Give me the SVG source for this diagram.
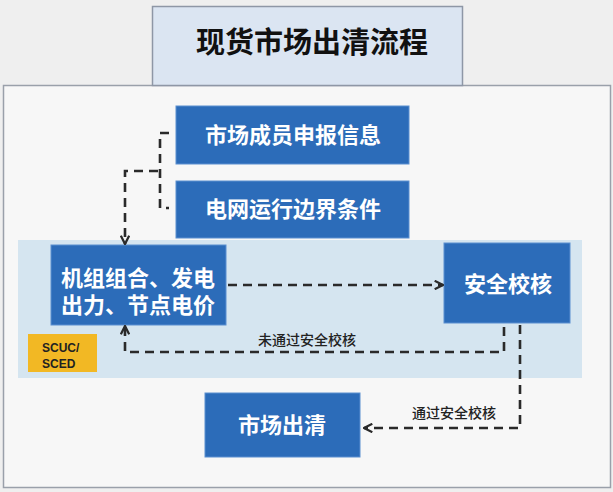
<svg xmlns="http://www.w3.org/2000/svg" width="613" height="492" viewBox="0 0 613 492">
<style>
.box{fill:#2c6cb9;stroke:#5b8fd0;stroke-width:1}
.bt{font-family:"Noto Sans CJK SC","Noto Sans",sans-serif;font-weight:bold;font-size:22px;fill:#ffffff;text-anchor:middle}
.lbl{font-family:"Noto Sans CJK SC","Noto Sans",sans-serif;font-size:14px;font-weight:500;fill:#222222;text-anchor:middle}
.dash{fill:none;stroke:#2a2a2a;stroke-width:2.6;stroke-dasharray:9 6}
</style>
<defs>
<marker id="ah" viewBox="0 0 10 10" refX="9" refY="5" markerWidth="4" markerHeight="4" orient="auto" markerUnits="strokeWidth">
<polyline points="1,1 9,5 1,9" fill="none" stroke="#2a2a2a" stroke-width="2.2"/>
</marker>
</defs>
<rect x="0" y="0" width="613" height="492" fill="#efefef"/>
<g id="frame">
<rect x="3.5" y="85.5" width="607" height="402" fill="#f7f7f7" stroke="#9aa0aa" stroke-width="1.5"/>
</g>
<g id="title">
<rect x="152.5" y="6.5" width="310" height="79" fill="#dbe5f2" stroke="#8e97a6" stroke-width="1.5"/>
<text x="312" y="53" font-family="Noto Sans CJK SC,sans-serif" font-weight="bold" font-size="29" fill="#111" text-anchor="middle">现货市场出清流程</text>
</g>
<g id="band">
<rect x="18" y="240" width="564" height="138" fill="#d5e5f0"/>
</g>
<g id="scuc">
<rect x="28" y="334" width="69" height="38" fill="#f2b824"/>
<text font-family="Liberation Sans,sans-serif" font-weight="bold" font-size="12" fill="#222"><tspan x="42" y="352">SCUC/</tspan><tspan x="42" y="368">SCED</tspan></text>
</g>
<g id="n1">
<rect class="box" x="176" y="106" width="233" height="58"/>
<text class="bt" x="293" y="143">市场成员申报信息</text>
</g>
<g id="n2">
<rect class="box" x="176" y="181" width="233" height="57"/>
<text class="bt" x="293" y="217">电网运行边界条件</text>
</g>
<g id="n3">
<rect class="box" x="51" y="245" width="175" height="80"/>
<text class="bt"><tspan x="138" y="286">机组组合、发电</tspan><tspan x="138" y="313">出力、节点电价</tspan></text>
</g>
<g id="n4">
<rect class="box" x="444" y="243" width="126" height="80"/>
<text class="bt" x="508" y="292">安全校核</text>
</g>
<g id="n5">
<rect class="box" x="205" y="393" width="155" height="64"/>
<text class="bt" x="282" y="433">市场出清</text>
</g>
<g id="connectors">
<polyline class="dash" points="169,133 160,133 160,208 169,208"/>
<polyline class="dash" points="158,171 125,171 125,244" marker-end="url(#ah)"/>
<polyline class="dash" points="228,285 443,285" marker-end="url(#ah)"/>
<polyline class="dash" points="504,327 504,352 125,352 125,326" marker-end="url(#ah)"/>
<polyline class="dash" points="520,325 520,428 364,428" marker-end="url(#ah)"/>
<text class="lbl" x="307" y="345">未通过安全校核</text>
<text class="lbl" x="454" y="418">通过安全校核</text>
</g>
</svg>
